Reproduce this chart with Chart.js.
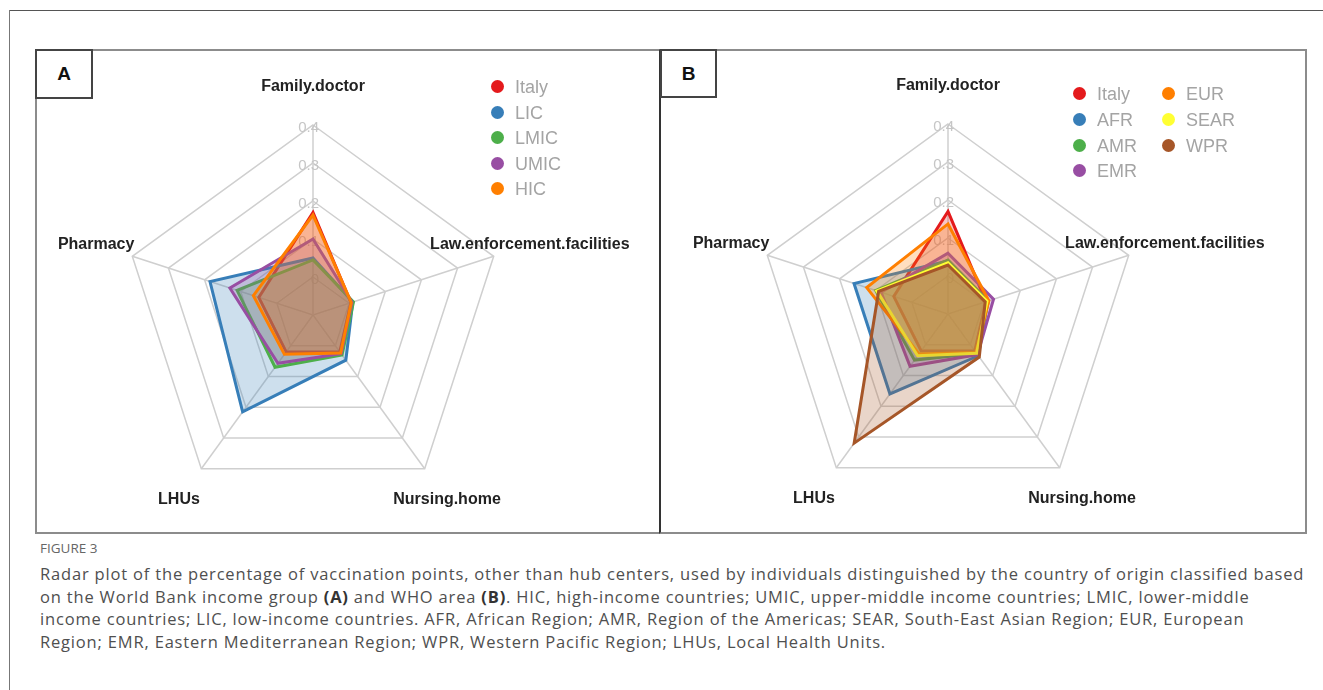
<!DOCTYPE html>
<html>
<head>
<meta charset="utf-8">
<title>Figure 3 radar plots</title>
<script src="https://cdn.jsdelivr.net/npm/chart.js@4.4.0/dist/chart.umd.min.js"></script>
<style>
  body { margin: 0; width: 1323px; height: 690px; background: #fff; position: relative; overflow: hidden;
         font-family: "Liberation Sans", Arial, sans-serif; }
  .line-top { position: absolute; left: 9px; top: 10px; width: 1314px; border-top: 1px solid #555; }
  .line-left { position: absolute; left: 9px; top: 10px; height: 680px; border-left: 1px solid #777; }
  .panel { position: absolute; top: 49px; height: 485px; box-sizing: border-box; }
  #panelA { left: 35px; width: 626px; border: 2px solid #8c8c8c; border-right: none; }
  #panelB { left: 659px; width: 648px; border: 2px solid #8c8c8c; border-left: 2px solid #333; }
  .tag { position: absolute; top: 49px; height: 50px; box-sizing: border-box; border: 2px solid #444;
         font: bold 19px "Liberation Sans", Arial, sans-serif; color: #111; text-align: center; line-height: 46px; background: #fff; }
  canvas { position: absolute; }
  .legend { position: absolute; font-size: 18px; color: #a4a4a4; }
  .legend div { position: absolute; white-space: nowrap; height: 20px; line-height: 20px; }
  .legend span { position: absolute; width: 13px; height: 13px; border-radius: 50%; left: -24px; top: 3px; }
  .caption { position: absolute; left: 40px; font-family: "Open Sans", "Noto Sans", sans-serif; color: #4f4f4f; }
  .fig { top: 539px; font-size: 13.5px; color: #666; }
  .cap { font-size: 16.5px; letter-spacing: 0.82px; white-space: nowrap; }
  .cap b { font-weight: bold; color: #333; }
</style>
</head>
<body>
<div class="line-top"></div>
<div class="line-left"></div>
<div class="panel" id="panelA"></div>
<div class="panel" id="panelB"></div>
<canvas id="radarA" width="622" height="480" style="left:37px; top:51px;"></canvas>
<canvas id="radarB" width="642" height="480" style="left:662px; top:51px;"></canvas>
<div class="tag" style="left:35px; width:58px;">A</div>
<div class="tag" style="left:660px; width:57px; height:49px;">B</div>
<div class="legend" id="legendA"></div>
<div class="legend" id="legendB"></div>

<div class="caption fig">FIGURE 3</div>
<div class="caption cap" style="top:562px;">Radar plot of the percentage of vaccination points, other than hub centers, used by individuals distinguished by the country of origin classified based</div>
<div class="caption cap" style="top:585px;">on the World Bank income group <b>(A)</b> and WHO area <b>(B)</b>. HIC, high-income countries; UMIC, upper-middle income countries; LMIC, lower-middle</div>
<div class="caption cap" style="top:607px;">income countries; LIC, low-income countries. AFR, African Region; AMR, Region of the Americas; SEAR, South-East Asian Region; EUR, European</div>
<div class="caption cap" style="top:630px;">Region; EMR, Eastern Mediterranean Region; WPR, Western Pacific Region; LHUs, Local Health Units.</div>

<script>
// axes, clockwise from the top
const axes = ['Family.doctor', 'Law.enforcement.facilities', 'Nursing.home', 'LHUs', 'Pharmacy'];
const tickValues = [0, 0.1, 0.2, 0.3, 0.4];

// panel A: World Bank income group
const groupsA = ['Italy', 'LIC', 'LMIC', 'UMIC', 'HIC'];
const italy = [0.17, 0.005, 0.02, 0.02, 0.05];
const lic   = [0.05, 0.01, 0.047, 0.215, 0.185];
const lmic  = [0.045, 0.012, 0.03, 0.07, 0.11];
const umic  = [0.10, 0.008, 0.026, 0.057, 0.13];
const hic   = [0.163, 0.006, 0.024, 0.028, 0.065];

// panel B: WHO area
const groupsB = ['Italy', 'AFR', 'AMR', 'EMR', 'EUR', 'SEAR', 'WPR'];
const afr  = [0.04, 0.01, 0.036, 0.16, 0.16];
const amr  = [0.042, 0.012, 0.028, 0.05, 0.10];
const emr  = [0.06, 0.026, 0.032, 0.07, 0.085];
const eur  = [0.137, 0.013, 0.025, 0.03, 0.125];
const sear = [0.035, 0.008, 0.028, 0.036, 0.097];
const wpr  = [0.029, 0.003, 0.04, 0.32, 0.092];

const colorsA = ['#E41A1C', '#377EB8', '#4DAF4A', '#984EA3', '#FF7F00'];
const colorsB = ['#E41A1C', '#377EB8', '#4DAF4A', '#984EA3', '#FF7F00', '#FFFF33', '#A65628'];

function withAlpha(hex, a) {
  const n = parseInt(hex.slice(1), 16);
  return 'rgba(' + (n >> 16) + ',' + ((n >> 8) & 255) + ',' + (n & 255) + ',' + a + ')';
}

function makeDatasets(names, series, colors) {
  const n = names.length;
  return names.map((name, i) => ({
    label: name,
    data: series[i],
    borderColor: colors[i],
    backgroundColor: withAlpha(colors[i], 0.25),
    borderWidth: 3,
    pointRadius: 0,
    order: n - i // later groups on top, like the original plot
  }));
}

// tick values under the fills, axis names outside the web
const radarText = {
  id: 'radarText',
  beforeDatasetsDraw(chart) {
    const s = chart.scales.r, ctx = chart.ctx;
    ctx.save();
    ctx.font = '15px "Liberation Sans", Arial, sans-serif';
    ctx.fillStyle = '#c6c6c6';
    ctx.textAlign = 'right';
    ctx.textBaseline = 'middle';
    tickValues.forEach(v => {
      const d = s.getDistanceFromCenterForValue(v);
      ctx.fillText(String(v), s.xCenter + 6, s.yCenter - d + 3);
    });
    ctx.restore();
  },
  afterDraw(chart) {
    const s = chart.scales.r, ctx = chart.ctx;
    ctx.save();
    ctx.font = 'bold 16px "Liberation Sans", Arial, sans-serif';
    ctx.fillStyle = '#222';
    ctx.textAlign = 'center';
    ctx.textBaseline = 'middle';
    chart.data.labels.forEach((lab, i) => {
      const p = s.getPointPosition(i, s.drawingArea * 1.2);
      ctx.fillText(lab, p.x, p.y);
    });
    ctx.restore();
  }
};

function makeRadar(id, datasets, padding) {
  return new Chart(document.getElementById(id), {
    type: 'radar',
    data: { labels: axes, datasets: datasets },
    options: {
      responsive: false,
      animation: false,
      layout: { padding: padding },
      elements: { line: { tension: 0 } },
      plugins: { legend: { display: false }, tooltip: { enabled: false } },
      scales: {
        r: {
          min: -0.1,
          max: 0.4,
          ticks: { stepSize: 0.1, display: false },
          grid: { color: '#cfcfcf', lineWidth: 1.5 },
          angleLines: { color: '#cfcfcf', lineWidth: 1.5 },
          pointLabels: { display: false }
        }
      }
    },
    plugins: [radarText]
  });
}

makeRadar('radarA', makeDatasets(groupsA, [italy, lic, lmic, umic, hic], colorsA),
  { left: 86, top: 74, right: 156, bottom: 26 });
makeRadar('radarB', makeDatasets(groupsB, [italy, afr, amr, emr, eur, sear, wpr], colorsB),
  { left: 96, top: 73, right: 166, bottom: 27 });

function buildLegend(id, names, colors, cols, x0, y0, dx, dy) {
  const box = document.getElementById(id);
  const perCol = Math.ceil(names.length / cols);
  names.forEach((name, i) => {
    const c = Math.floor(i / perCol), r = i % perCol;
    const item = document.createElement('div');
    item.style.left = (x0 + c * dx) + 'px';
    item.style.top = (y0 + r * dy - 10) + 'px';
    item.innerHTML = '<span style="background:' + colors[i] + '"></span>' + name;
    box.appendChild(item);
  });
}
buildLegend('legendA', groupsA, colorsA, 1, 515, 87, 0, 25.6);
buildLegend('legendB', groupsB, colorsB, 2, 1097, 94, 89, 25.8);
</script>
</body>
</html>
